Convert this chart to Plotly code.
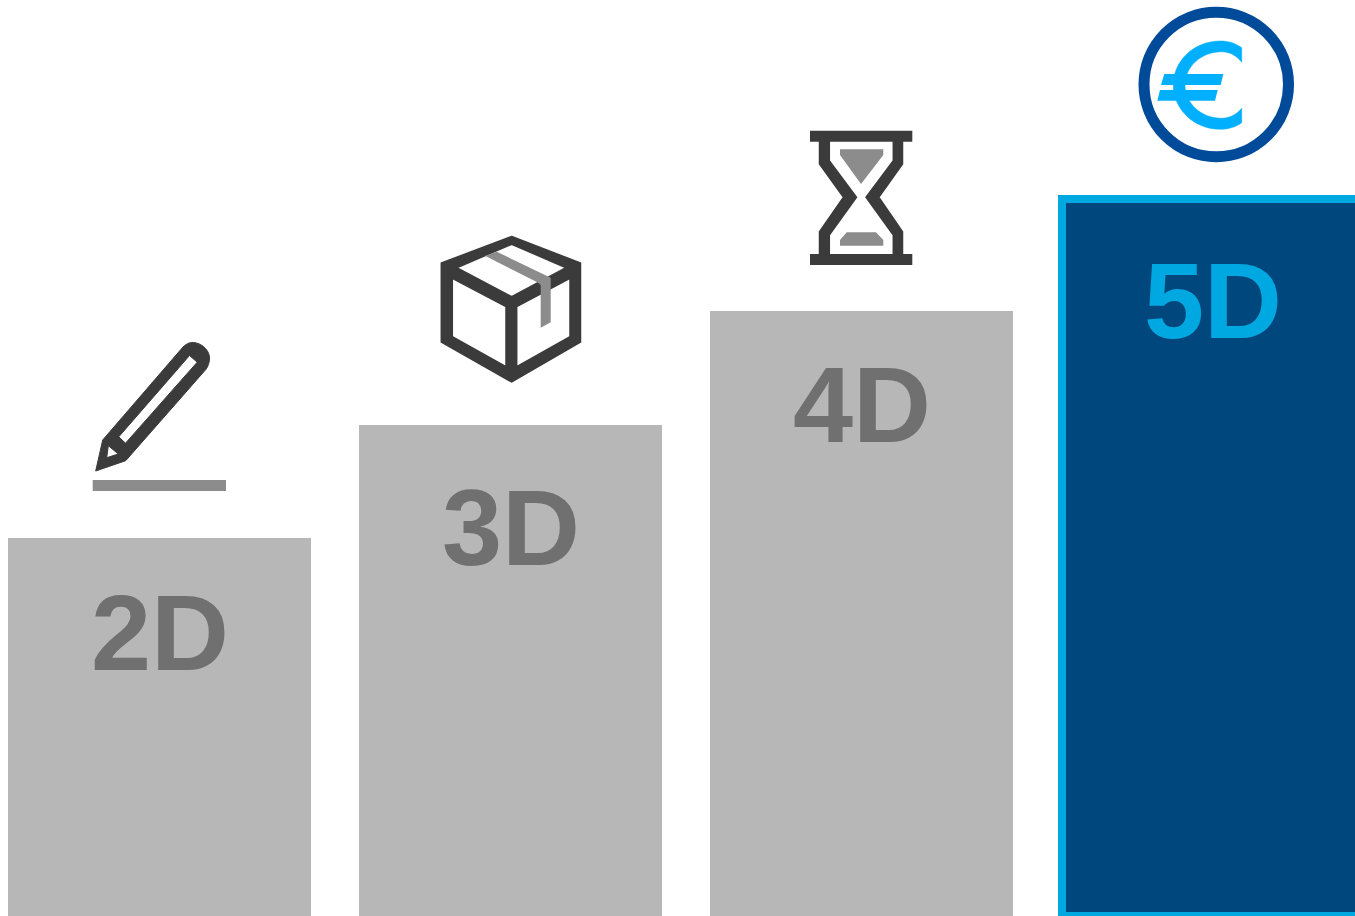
import plotly.graph_objects as go

categories = ["2D", "3D", "4D", "5D"]
heights = [378, 491, 605, 717]
label_heights = [284, 389, 512, 616]
bar_colors = ["#b7b7b7", "#b7b7b7", "#b7b7b7", "#00477d"]
line_colors = ["#b7b7b7", "#b7b7b7", "#b7b7b7", "#00a8e1"]
line_widths = [0, 0, 0, 8]
text_colors = ["#707070", "#707070", "#707070", "#00a8e1"]

W, H = 1355, 916
SP = 351.0
BW = 303.0 / SP
DARK, MID, EURO = "#3b3b3b", "#8c8c8c", "#00b0ff"

fig = go.Figure(go.Bar(
    x=categories, y=heights,
    width=[BW] * 4,
    offset=[-BW / 2, -BW / 2, -BW / 2, -BW / 2 + 1 / SP],
    marker=dict(color=bar_colors, line=dict(color=line_colors, width=line_widths)),
    hoverinfo="skip", cliponaxis=True,
))


def poly(*pts):
    return "M" + " L".join(f"{x} {y}" for x, y in pts) + " Z"


paths = [
    # pencil
    ("M95.7 471 L102.7 440 L183 347 C 187 343 191 342 195 342.7 C 203 344 210 351 209.5 359 "
     "C 209.3 363 208 366.5 206 369.3 L 125.7 460.7 Z "
     + poly((189.5, 355.5), (197.2, 362.2), (125.5, 443.2), (118.8, 436.8)) + " "
     + poly((108.3, 445.7), (118.3, 454), (106.7, 457.7)), DARK, 1),
    (poly((92.7, 480), (226, 480), (226, 491), (92.7, 491)), MID, 0),
    # box
    (poly((511.7, 236.5), (580.5, 263), (580.5, 342), (511.7, 382), (441.3, 342), (441.3, 263)) + " "
     + poly((511.7, 244.3), (566, 267.7), (511.7, 296.7), (456.7, 267.7)) + " "
     + poly((452.3, 278.3), (506, 306.7), (506, 366.7), (452.3, 336.7)) + " "
     + poly((516.7, 306.7), (570, 278.3), (570, 336.7), (516.7, 366.7)), DARK, 1.5),
    (poly((485, 255.7), (496.7, 251.7), (550.7, 277.7), (550.7, 322.3), (540.7, 327.7), (540.7, 285), (537.3, 282.3)), MID, 0),
    # hourglass
    (poly((810, 130.7), (912.3, 130.7), (912.3, 141.7), (810, 141.7)), DARK, 0),
    (poly((810, 254), (912.3, 254), (912.3, 265), (810, 265)), DARK, 0),
    (poly((819.5, 141.7), (829.3, 141.7), (829.3, 160.7), (856.5, 197.3), (829.3, 235), (829.3, 254),
          (819.5, 254), (819.5, 231.7), (843.5, 197.3), (819.5, 164)), DARK, 1.5),
    (poly((902.5, 141.7), (893.3, 141.7), (893.3, 160.7), (866, 197.3), (893.3, 235), (893.3, 254),
          (902.5, 254), (902.5, 231.7), (878.8, 197.3), (902.5, 164)), DARK, 1.5),
    (poly((840, 149.3), (883.3, 149.3), (883.3, 155), (861, 184), (840, 155)), MID, 0),
    (poly((846.7, 232.3), (876, 232.3), (883.3, 240), (883.3, 245.7), (840, 245.7), (840, 240)), MID, 0),
    # euro
    ("M1241.7 47.7 C 1236 43.5 1229 41 1220 41 C 1194.2 41 1173.3 60.7 1173.3 85 C 1173.3 109.3 1194.2 129.3 1220 129.3 "
     "C 1229 129.3 1236 126.8 1241.7 122.7 L 1241.7 108.3 C 1236.5 114.5 1229.5 118.3 1221.7 118.3 "
     "C 1201.4 118.3 1185 103.4 1185 85 C 1185 66.6 1201.4 51.7 1221.7 51.7 C 1229.5 51.7 1236.5 55.5 1241.7 62.3 Z", EURO, 0.5),
    (poly((1164.3, 74), (1223.3, 74), (1220.7, 85), (1161, 85)), EURO, 0),
    (poly((1160, 90), (1217.7, 90), (1215, 100.7), (1157.3, 100.7)), EURO, 0),
]

shapes = [dict(type="path", path=p, xref="x2", yref="y2", fillcolor=c,
               line=dict(width=w, color=c), layer="above")
          for p, c, w in paths]
shapes.append(dict(type="circle", xref="x2", yref="y2", x0=1144, x1=1288.5, y0=12.2, y1=156.8,
                   fillcolor="rgba(0,0,0,0)", line=dict(color="#004a9a", width=11), layer="above"))

annotations = [
    dict(x=c, y=v, xref="x", yref="y", text=f"<b>{c}</b>", showarrow=False,
         font=dict(family="Liberation Sans", size=108, color=tc),
         xanchor="center", yanchor="middle")
    for c, v, tc in zip(categories, label_heights, text_colors)
]

fig.update_layout(
    width=W, height=H, margin=dict(l=0, r=0, t=0, b=0, pad=0),
    paper_bgcolor="white", plot_bgcolor="white", showlegend=False, hovermode=False,
    xaxis=dict(type="category", categoryorder="array", categoryarray=categories,
               range=[-159.5 / SP, (W - 159.5) / SP], visible=False, fixedrange=True),
    yaxis=dict(range=[0, H], visible=False, fixedrange=True),
    xaxis2=dict(range=[0, W], overlaying="x", visible=False, fixedrange=True, anchor="y2"),
    yaxis2=dict(range=[H, 0], overlaying="y", visible=False, fixedrange=True, anchor="x2"),
    shapes=shapes, annotations=annotations,
)
fig.add_trace(go.Scatter(x=[None], y=[None], xaxis="x2", yaxis="y2", hoverinfo="skip"))

fig.write_html("out.html", post_script="document.body.style.margin='0';", config=dict(displayModeBar=False))
